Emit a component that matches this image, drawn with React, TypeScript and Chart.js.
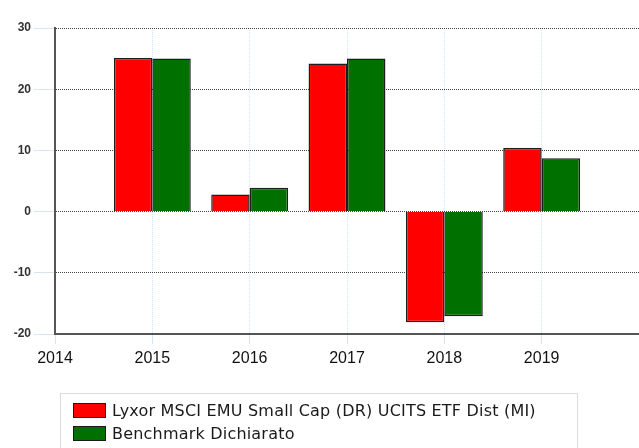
import React, { useEffect, useRef } from "react";
import { Chart, registerables } from "chart.js";

Chart.register(...registerables);

const years: string[] = ["2014", "2015", "2016", "2017", "2018", "2019", "2020"];
const fundName = "Lyxor MSCI EMU Small Cap (DR) UCITS ETF Dist (MI)";
const benchName = "Benchmark Dichiarato";
const fundValues: (number | null)[] = [null, 25.1, 2.8, 24.2, -18.1, 10.4, null];
const benchValues: (number | null)[] = [null, 25.0, 3.9, 25.0, -17.1, 8.7, null];
const fundColor = "#ff0000";
const benchColor = "#007000";
const yMin = -20;
const yMax = 30;
const yStep = 10;

export default function App() {
  const canvasRef = useRef<HTMLCanvasElement | null>(null);

  useEffect(() => {
    if (!canvasRef.current) return;
    const chart = new Chart(canvasRef.current, {
      type: "bar",
      data: {
        labels: years,
        datasets: [
          {
            label: fundName,
            data: fundValues,
            backgroundColor: fundColor,
            borderColor: "#1e1e1e",
            borderWidth: 1.5,
            categoryPercentage: 0.79,
            barPercentage: 1.0,
          },
          {
            label: benchName,
            data: benchValues,
            backgroundColor: benchColor,
            borderColor: "#1e1e1e",
            borderWidth: 1.5,
            categoryPercentage: 0.79,
            barPercentage: 1.0,
          },
        ],
      },
      options: {
        animation: false,
        responsive: false,
        maintainAspectRatio: false,
        layout: { padding: { top: 28, right: 0, left: 0, bottom: 0 } },
        plugins: {
          legend: { display: false },
          tooltip: { enabled: false },
          title: { display: false },
        },
        scales: {
          x: {
            type: "category",
            offset: false,
            afterFit: (scale: any) => {
              scale.height = 114;
            },
            grid: {
              display: true,
              offset: false,
              color: "#d5e3f3",
              lineWidth: 1,
              tickColor: "#d5e3f3",
              tickLength: 10,
              drawTicks: true,
            },
            border: { display: true, color: "#555555", width: 2, dash: [1, 1] },
            ticks: {
              autoSkip: false,
              maxRotation: 0,
              padding: 5,
              color: "#111111",
              font: { family: "'Liberation Sans', sans-serif", size: 16 },
              callback: (_v: any, i: number) => (i === years.length - 1 ? "" : years[i]),
            },
          },
          y: {
            min: yMin,
            max: yMax,
            afterFit: (scale: any) => {
              scale.width = 55;
            },
            grid: {
              display: true,
              color: "#444444",
              lineWidth: 1,
              tickColor: "#d5e3f3",
              tickLength: 21,
              drawTicks: true,
            },
            border: { display: true, color: "#555555", width: 2, dash: [1, 1] },
            ticks: {
              stepSize: yStep,
              padding: 3,
              color: "#333333",
              font: { family: "'Liberation Sans', sans-serif", size: 12, weight: "bold" },
            },
          },
        },
      },
    });
    return () => chart.destroy();
  }, []);

  const swatch = (color: string): React.CSSProperties => ({
    display: "inline-block",
    width: 31,
    height: 13,
    background: color,
    border: "1px solid #1a1a1a",
    marginRight: 6,
    verticalAlign: "middle",
  });

  return (
    <div style={{ position: "fixed", left: 0, top: 0, width: 639, height: 448, background: "#ffffff", overflow: "hidden" }}>
      <canvas ref={canvasRef} width={644} height={448} style={{ position: "absolute", left: 0, top: 0, width: 644, height: 448 }} />
      <div
        style={{
          position: "absolute",
          left: 60,
          top: 393,
          width: 518,
          height: 80,
          border: "1px solid #dcdcdc",
          fontFamily: "'DejaVu Sans', sans-serif",
          fontSize: 16,
          letterSpacing: "0.2px",
          color: "#1a1a1a",
          boxSizing: "border-box",
          paddingLeft: 12,
          paddingTop: 4,
        }}
      >
        <div style={{ height: 23, lineHeight: "23px", whiteSpace: "nowrap" }}>
          <span style={swatch(fundColor)} />
          <span style={{ verticalAlign: "middle" }}>{fundName}</span>
        </div>
        <div style={{ height: 23, lineHeight: "23px", whiteSpace: "nowrap" }}>
          <span style={swatch(benchColor)} />
          <span style={{ verticalAlign: "middle" }}>{benchName}</span>
        </div>
      </div>
    </div>
  );
}
